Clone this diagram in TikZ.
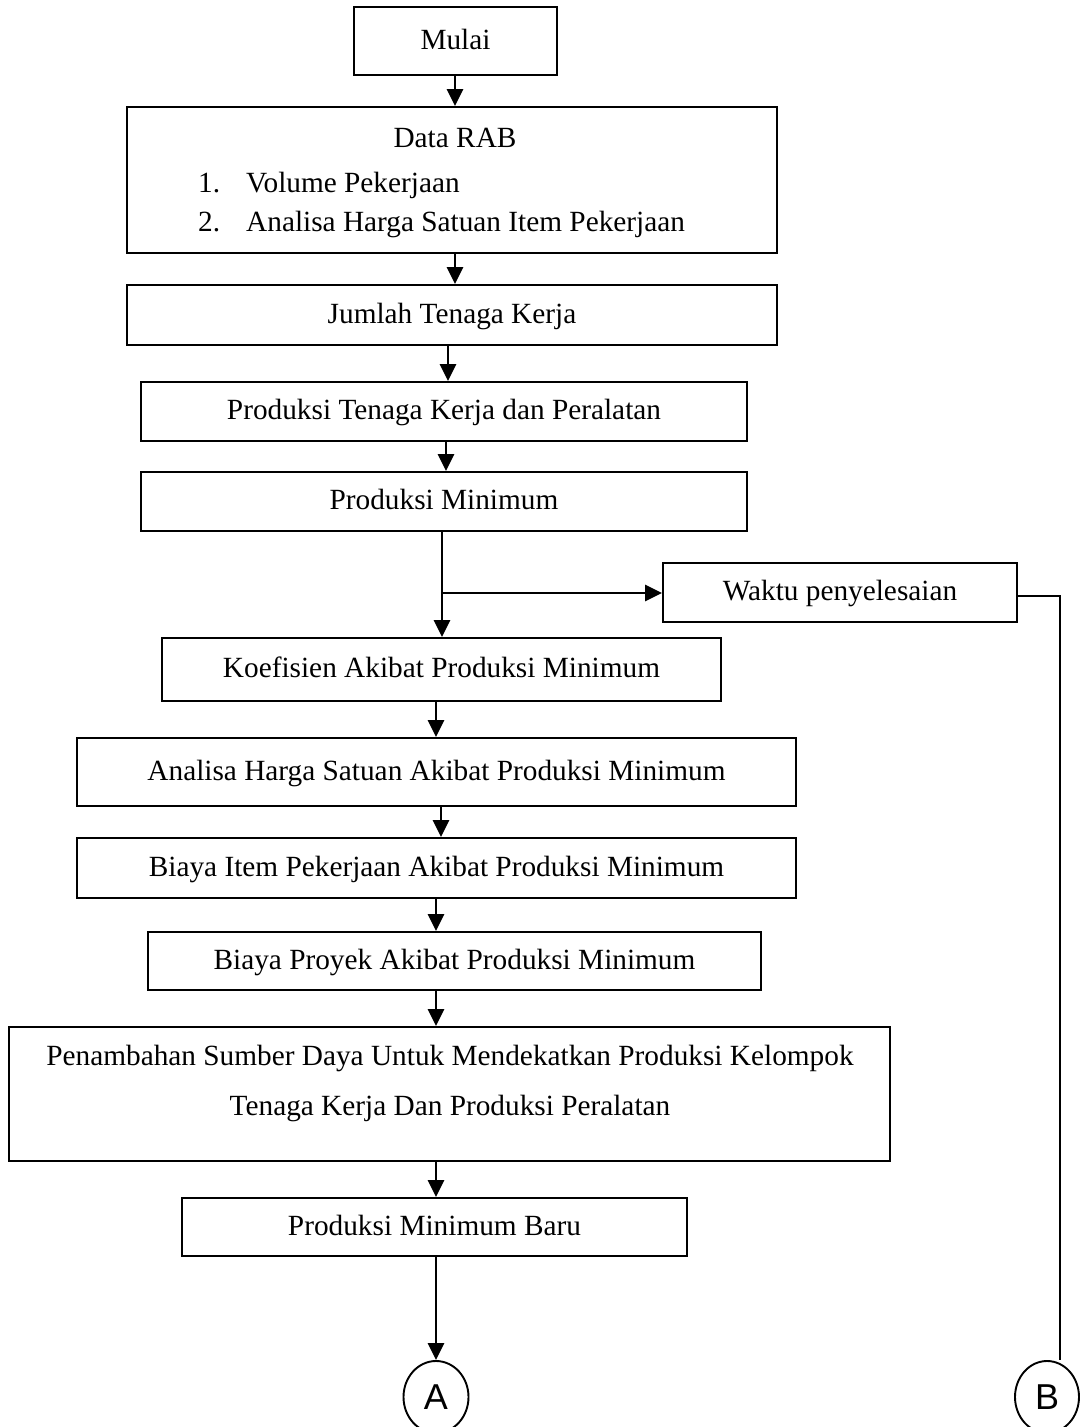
\documentclass[tikz,border=0pt]{standalone}
\usepackage{fontspec}
\setmainfont{Liberation Serif}
\setsansfont{Liberation Sans}
\usetikzlibrary{arrows.meta,calc,shapes.geometric}
\begin{document}
\begin{tikzpicture}[x=1pt,y=-1pt,
  box/.style={draw,line width=1.9pt,inner sep=0pt,font=\fontsize{29.3}{46}\selectfont,align=center,text height=19pt,text depth=3pt},
  txt/.style={inner sep=0pt,font=\fontsize{29.3}{46}\selectfont},
  arr/.style={line width=2.7pt,-{Triangle[length=17pt,width=16pt]}},
  lin/.style={line width=1.9pt},
  conn/.style={draw,ellipse,line width=1.9pt,inner sep=0pt,text height=25.8pt,text depth=0pt,font=\fontsize{36}{36}\selectfont\sffamily}
]
\useasboundingbox (0,0) rectangle (1079,1427);
\fill[white] (0,0) rectangle (1079,1427);

\node[box,minimum width=203pt,minimum height=68pt] (mulai) at (455.5,41) {Mulai};
\node[box,minimum width=650pt,minimum height=146pt] (rab) at (452,180) {};
\node[txt,anchor=base] (rabt) at (455,147) {Data RAB};
\node[txt,anchor=base west] (rabn1) at (198,192) {1.};
\node[txt,anchor=base west] (rabi1) at (246,192) {Volume Pekerjaan};
\node[txt,anchor=base west] (rabn2) at (198,231) {2.};
\node[txt,anchor=base west] (rabi2) at (246,231) {Analisa Harga Satuan Item Pekerjaan};

\node[box,minimum width=650pt,minimum height=60pt] (jtk) at (452,315) {Jumlah Tenaga Kerja};
\node[box,minimum width=606pt,minimum height=59pt] (ptk) at (444,411.5) {Produksi Tenaga Kerja dan Peralatan};
\node[box,minimum width=606pt,minimum height=59pt] (pm) at (444,501.5) {Produksi Minimum};
\node[box,minimum width=354pt,minimum height=59pt] (waktu) at (840,592.5) {Waktu penyelesaian};
\node[box,minimum width=559pt,minimum height=63pt] (koef) at (441.5,669.5) {Koefisien Akibat Produksi Minimum};
\node[box,minimum width=719pt,minimum height=68pt] (ahs) at (436.5,772) {Analisa Harga Satuan Akibat Produksi Minimum};
\node[box,minimum width=719pt,minimum height=60pt] (bip) at (436.5,868) {Biaya Item Pekerjaan Akibat Produksi Minimum};
\node[box,minimum width=613pt,minimum height=58pt] (bpp) at (454.5,961) {Biaya Proyek Akibat Produksi Minimum};
\node[box,minimum width=881pt,minimum height=134pt] (psd) at (449.5,1094) {};
\node[txt,anchor=base] (psd1) at (450,1065) {Penambahan Sumber Daya Untuk Mendekatkan Produksi Kelompok};
\node[txt,anchor=base] (psd2) at (450,1115) {Tenaga Kerja Dan Produksi Peralatan};
\node[box,minimum width=505pt,minimum height=58pt] (pmb) at (434.5,1227) {Produksi Minimum Baru};

\node[conn,minimum width=65pt,minimum height=72pt] (ca) at (436,1397) {A};
\node[conn,minimum width=64pt,minimum height=72pt] (cb) at (1047,1397) {B};

\coordinate (xa) at (455,0);
\coordinate (xb) at (448,0);
\coordinate (xc) at (446,0);
\coordinate (xd) at (442,0);
\coordinate (xe) at (436,0);
\coordinate (xf) at (441,0);
\coordinate (br) at (442,593);
\coordinate (bx) at (1060,0);
\coordinate (we) at ([yshift=-3.5pt]waktu.east);

\draw[arr] (xa |- mulai.south) -- (xa |- rab.north);
\draw[arr] (xa |- rab.south) -- (xa |- jtk.north);
\draw[arr] (xb |- jtk.south) -- (xb |- ptk.north);
\draw[arr] (xc |- ptk.south) -- (xc |- pm.north);
\draw[arr] (xd |- pm.south) -- (xd |- koef.north);
\draw[arr] (br) -- (br -| waktu.west);
\draw[arr] (xe |- koef.south) -- (xe |- ahs.north);
\draw[arr] (xf |- ahs.south) -- (xf |- bip.north);
\draw[arr] (xe |- bip.south) -- (xe |- bpp.north);
\draw[arr] (xe |- bpp.south) -- (xe |- psd.north);
\draw[arr] (xe |- psd.south) -- (xe |- pmb.north);
\draw[arr] (xe |- pmb.south) -- (xe |- ca.north);
\draw[lin] (we) -- (we -| bx) -- (bx |- cb.north);
\end{tikzpicture}
\end{document}
